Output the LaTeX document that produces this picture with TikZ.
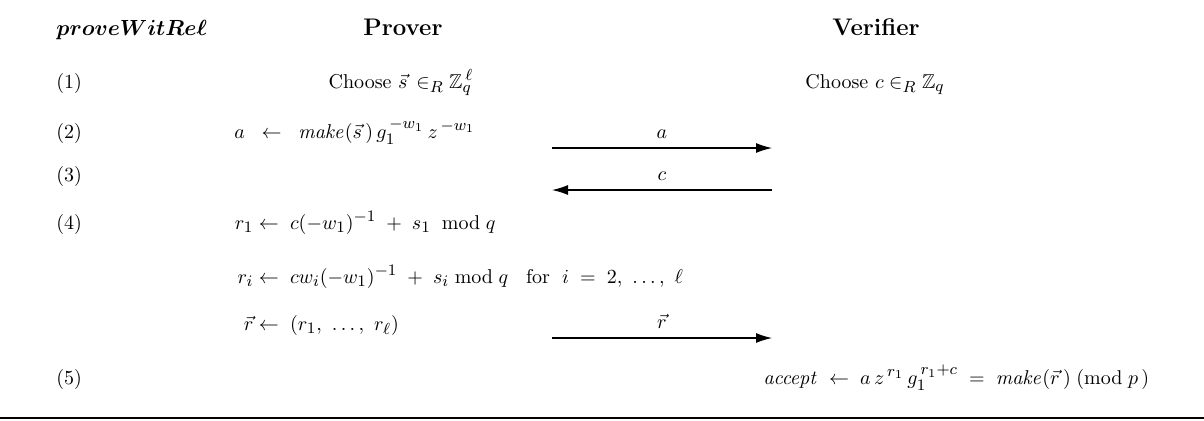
\documentclass[tikz,border=0pt]{standalone}
\usepackage{amsmath,amssymb,bm}
\DeclareMathSizes{10}{10}{8}{6}
\usetikzlibrary{arrows.meta}
\newcommand\rowlhs[1]{\makebox[9pt][r]{$#1$}}
\tikzset{
  >=Latex,
  title/.style={font=\large\bfseries,anchor=base,inner sep=0pt},
  stepno/.style={anchor=base west,inner sep=0pt},
  choose/.style={anchor=base,inner sep=0pt},
  compute/.style={anchor=base west,inner sep=0pt},
  msg/.style={-{Latex[length=8pt,width=5pt]},line width=.6pt},
  msglabel/.style={midway,above=4.5pt,inner sep=0pt}
}

\begin{document}
\begin{tikzpicture}[x=.5pt,y=-.5pt]
  \useasboundingbox (0,0) rectangle (1204,420);
  \node[title,anchor=base west,font=\fontsize{10.5}{13}\selectfont] (proto) at (56,35) {$\boldsymbol{proveWitRe\ell}$};
  \node[title] (prover) at (403,35) {Prover};
  \node[title] (verifier) at (876,35) {Verifier};
  \foreach \n/\y in {1/88,2/138,3/181,4/229,5/384}
    \node[stepno] (n\n) at (56,\y) {(\n)};
  \node[choose] (pchoose) at (401,88) {Choose $\vec{s}\, \in_R \mathbb{Z}_q^{\,\ell}$};
  \node[choose] (vchoose) at (875,88) {Choose $c \in_R \mathbb{Z}_q$};
  \node[compute] (commit) at (234,138) {$a \;\;\leftarrow\;\; \mathit{make}(\vec{s}\,)\,g_1^{\,-w_1}\,z^{\,-w_1}$};
  \coordinate (a-p) at (552,148);
  \coordinate (a-v) at (772,148);
  \draw[msg] (a-p) -- node[msglabel] (lbl-a) {$a$} (a-v);
  \coordinate (c-p) at (552,190);
  \coordinate (c-v) at (772,190);
  \draw[msg] (c-v) -- node[msglabel] (lbl-c) {$c$} (c-p);
  \node[compute] (r1) at (235,229) {\rowlhs{r_1}$\;\leftarrow\; c(-w_1)^{-1} \;+\; s_1\; \bmod q$};
  \node[compute] (ri) at (235,283) {\rowlhs{r_i}$\;\leftarrow\; cw_i(-w_1)^{-1} \;+\; s_i \bmod q$\;\; for $\;i \;=\; 2,\ \ldots,\ \ell$};
  \node[compute] (rvec) at (235,330) {\rowlhs{\vec{r}}$\;\leftarrow\; (r_1,\ \ldots,\ r_\ell)$};
  \coordinate (r-p) at (552,338);
  \coordinate (r-v) at (772,338);
  \draw[msg] (r-p) -- node[msglabel] (lbl-r) {$\vec{r}$} (r-v);
  \node[compute] (accept) at (763,384) {$\mathit{accept} \;\leftarrow\; a\,z^{\,r_1}\,g_1^{\,r_1+c} \;=\; \mathit{make}(\vec{r}\,)\;(\mathrm{mod}\;p\,)$};
  \draw[line width=1pt] (0,418) -- (1204,418);
\end{tikzpicture}
\end{document}
